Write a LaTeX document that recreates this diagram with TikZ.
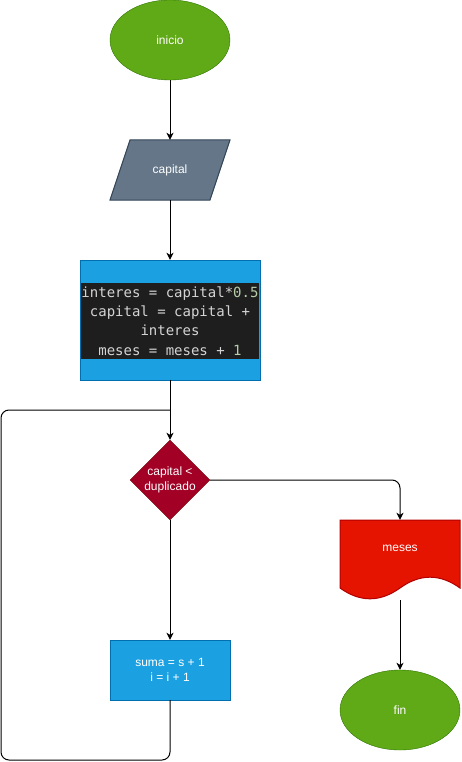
\documentclass[tikz,border=0pt]{standalone}
\usepackage{fontspec}
\setmainfont{Liberation Sans}
\newfontfamily\codefont{DejaVu Sans Mono}
\usetikzlibrary{shapes.geometric,arrows.meta}
\definecolor{gfill}{HTML}{60A917}
\definecolor{gline}{HTML}{2D7600}
\definecolor{sfill}{HTML}{647687}
\definecolor{sline}{HTML}{314354}
\definecolor{bfill}{HTML}{1BA1E2}
\definecolor{bline}{HTML}{006EAF}
\definecolor{rfill}{HTML}{A20025}
\definecolor{rline}{HTML}{6F0000}
\definecolor{dfill}{HTML}{E51400}
\definecolor{dline}{HTML}{B20000}
\definecolor{codebg}{HTML}{1E1E1E}
\definecolor{codetx}{HTML}{D4D4D4}
\definecolor{codenum}{HTML}{B5CEA8}
\tikzset{
  base/.style={font=\fontsize{12}{14.5}\selectfont, text=white, inner sep=0pt, align=center},
  term/.style={base, ellipse, draw=gline, fill=gfill, minimum width=120pt, minimum height=80pt},
  procbox/.style={base, rectangle, draw=bline, fill=bfill},
  conn/.style={line width=1pt, draw=black},
  arr/.style={conn, -{Stealth[length=7pt,width=7pt,inset=2pt]}},
}
\begin{document}
\begin{tikzpicture}[x=1pt,y=-1pt]
\useasboundingbox (0,0) rectangle (461,762);
% start
\node[term] (ini) at (170,40) {inicio};
% input parallelogram
\fill[sfill] (130,140) -- (230,140) -- (210,200) -- (110,200) -- cycle;
\draw[sline, line width=1pt] (130,140) -- (230,140) -- (210,200) -- (110,200) -- cycle;
\node[base, minimum width=120pt, minimum height=60pt] (cap) at (170,170) {capital};
% process box
\node[procbox, minimum width=180pt, minimum height=120pt] (proc) at (170,320) {};
\node[fill=codebg, text=codetx, inner sep=0pt, minimum width=178pt, minimum height=76pt, text width=178pt, align=center,
      font={\codefont\fontsize{14}{19.2}\selectfont}] (code) at (170,321)
  {\spaceskip=8.43pt\relax interes = capital*\textcolor{codenum}{0.5}\\capital = capital +\\interes\\meses = meses + \textcolor{codenum}{1}};
% decision
\node[diamond, draw=rline, fill=rfill, minimum width=80pt, minimum height=80pt, inner sep=0pt,
      label={[base]center:capital <\\duplicado}] (dia) at (170,480) {};
% loop body
\node[procbox, minimum width=120pt, minimum height=60pt] (suma) at (170,670) {suma = s + 1\\i = i + 1};
% output document
\fill[dfill] (340,520) -- (460,520) -- (460,588) .. controls (440,573.6) and (420,573.6) .. (400,588) .. controls (380,602.4) and (360,602.4) .. (340,588) -- cycle;
\draw[dline, line width=1pt] (340,520) -- (460,520) -- (460,588) .. controls (440,573.6) and (420,573.6) .. (400,588) .. controls (380,602.4) and (360,602.4) .. (340,588) -- cycle;
\node[minimum width=120pt, minimum height=80pt, inner sep=0pt] (doc) at (400,560) {};
\node[base] (doctext) at (400,548) {meses};
% end
\node[term] (fin) at (400,710) {fin};
% coordinates for loop
\coordinate (lb) at (1,760);
\coordinate (lt) at (1,410);
\coordinate (join) at (170,410);
% connectors
\draw[arr] (ini) -- (cap.north);
\draw[arr] (cap.south) -- (proc.north);
\draw[arr] (proc.south) -- (dia.north);
\draw[arr] (dia.south) -- (suma.north);
\draw[arr, rounded corners=8pt] (dia.east) -| (doc.north);
\draw[arr] (400,600) -- (fin.north);
\draw[conn, rounded corners=8pt] (suma.south) |- (lb) -- (lt) -- (join);
\end{tikzpicture}
\end{document}
